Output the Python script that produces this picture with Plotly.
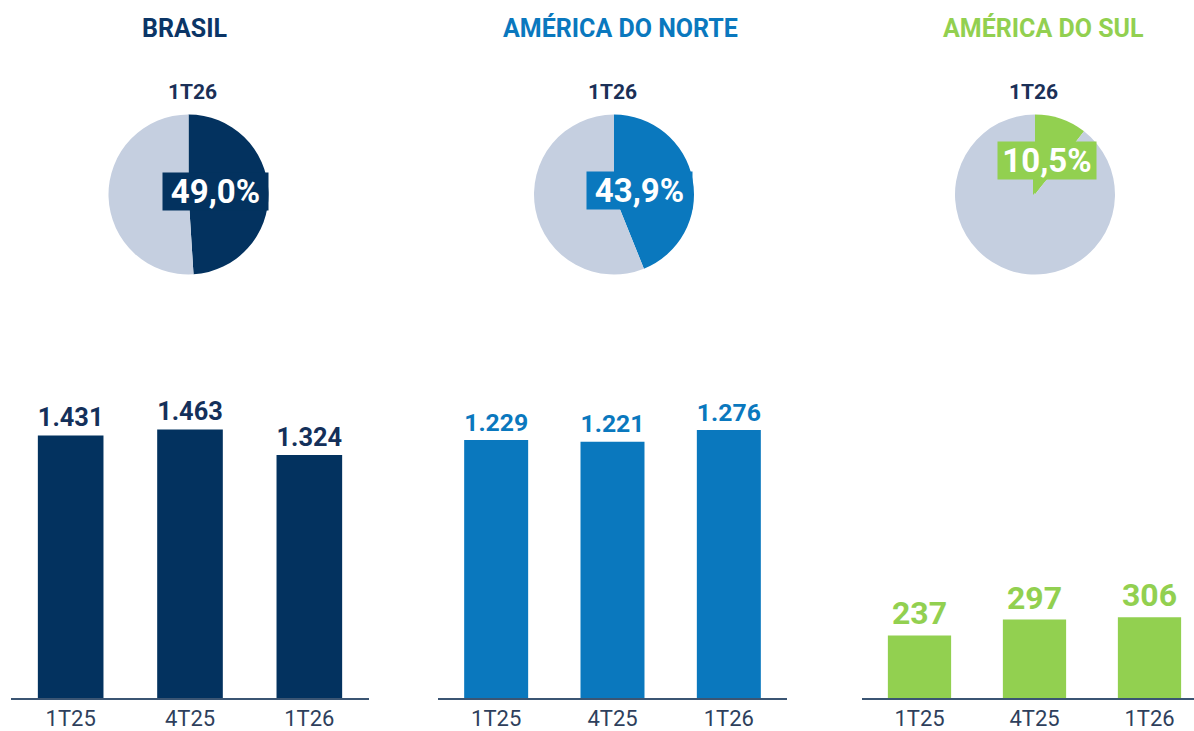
import plotly.graph_objects as go

W, H = 1194, 731

# data
regions = ["BRASIL", "AMÉRICA DO NORTE", "AMÉRICA DO SUL"]
quarters = ["1T25", "4T25", "1T26"]
brasil_vals = [1431, 1463, 1324]
norte_vals = [1229, 1221, 1276]
sul_vals = [237, 297, 306]
share_1t26 = [49.0, 43.9, 10.5]
pie_label = "1T26"

colors = ["#03325F", "#0A78BE", "#92D050"]
label_colors = ["#14305A", "#0A78BE", "#92D050"]
title_colors = ["#0B3566", "#0A78BE", "#92D050"]
grey = "#C5CFE0"
FONT = "Roboto"


def px(x):
    return x / W


def py(y):
    return 1 - y / H


fig = go.Figure()

# bar panels: (x domain in pixels, x range, y max)
bar_panels = [
    ((11, 369), [-0.5, 2.5], 1635),
    ((438, 787), [-0.5, 2.5], 1429),
    ((862, 1194), [-0.5, 2.387], 1136),
]
series = [brasil_vals, norte_vals, sul_vals]

for i, (vals, (dom, xr, ymax)) in enumerate(zip(series, bar_panels)):
    n = "" if i == 0 else str(i + 1)
    fig.add_trace(go.Bar(
        x=quarters, y=vals, xaxis="x" + n, yaxis="y" + n,
        marker=dict(color=colors[i], line=dict(width=0)),
        width=0.55,
        texttemplate="%{y:,}", textposition="outside", cliponaxis=False,
        textfont=dict(family=FONT, size=32, color=label_colors[i], weight="bold"),
        hoverinfo="skip", showlegend=False,
    ))
    fig.update_layout(**{
        "xaxis" + n: dict(domain=[px(dom[0]), px(dom[1])], range=xr,
                          anchor="y" + n, showline=True, linecolor="#3B5573",
                          linewidth=2, ticks="", showgrid=False, zeroline=False,
                          tickfont=dict(family=FONT, size=22, color="#2E3F5C"),
                          fixedrange=True),
        "yaxis" + n: dict(domain=[py(698), py(398)], range=[0, ymax],
                          anchor="x" + n, visible=False, showgrid=False,
                          fixedrange=True),
    })

# pies
pie_centers = [(188.5, 194.5), (614, 194.5), (1035, 194.5)]
r = 80
for i, (cx, cy) in enumerate(pie_centers):
    s = share_1t26[i]
    fig.add_trace(go.Pie(
        values=[s, 100 - s], sort=False, direction="clockwise", rotation=0,
        marker=dict(colors=[colors[i], grey], line=dict(width=0)),
        textinfo="none", hoverinfo="skip", showlegend=False,
        domain=dict(x=[px(cx - r), px(cx + r)], y=[py(cy + r), py(cy - r)]),
    ))

annotations = []
# titles
title_x = [185, 620, 1043]
for i, t in enumerate(regions):
    annotations.append(dict(
        text="<b>%s</b>" % t, x=px(title_x[i]), y=py(28), xref="paper", yref="paper",
        showarrow=False, xanchor="center", yanchor="middle",
        font=dict(family=FONT, size=25, color=title_colors[i]),
    ))
# 1T26 above pies
for cx in [192, 612, 1033]:
    annotations.append(dict(
        text="<b>%s</b>" % pie_label, x=px(cx), y=py(92), xref="paper", yref="paper",
        showarrow=False, xanchor="center", yanchor="middle",
        font=dict(family=FONT, size=21, color="#1B3057"),
    ))
# share boxes
boxes = [(215.5, 191.5, 105, 37), (639.5, 190.5, 105, 37), (1047, 160.5, 98, 37)]
for i, (bx, by, bw, bh) in enumerate(boxes):
    annotations.append(dict(
        text="<b>%s%%</b>" % ("%.1f" % share_1t26[i]).replace(".", ","),
        x=px(bx), y=py(by), xref="paper", yref="paper",
        showarrow=False, xanchor="center", yanchor="middle",
        width=bw, height=bh, borderpad=0, bgcolor=colors[i],
        font=dict(family=FONT, size=33, color="white"),
    ))

# callout pointer for the small slice box
pointer = "M %f %f L %f %f L %f %f Z" % (px(1033), py(178), px(1033), py(195), px(1048), py(178))

fig.update_layout(
    width=W, height=H,
    margin=dict(l=0, r=0, t=0, b=0),
    paper_bgcolor="white", plot_bgcolor="white",
    separators=",.",
    bargap=0.45,
    annotations=annotations,
    shapes=[dict(type="path", path=pointer, xref="paper", yref="paper",
                 fillcolor=colors[2], line=dict(width=0), layer="above")],
    font=dict(family=FONT),
)

# page body has a default 8px margin; drop it so the chart fills the window
fig.write_html("out.html", config={"displayModeBar": False},
               post_script="document.body.style.margin='0';")
